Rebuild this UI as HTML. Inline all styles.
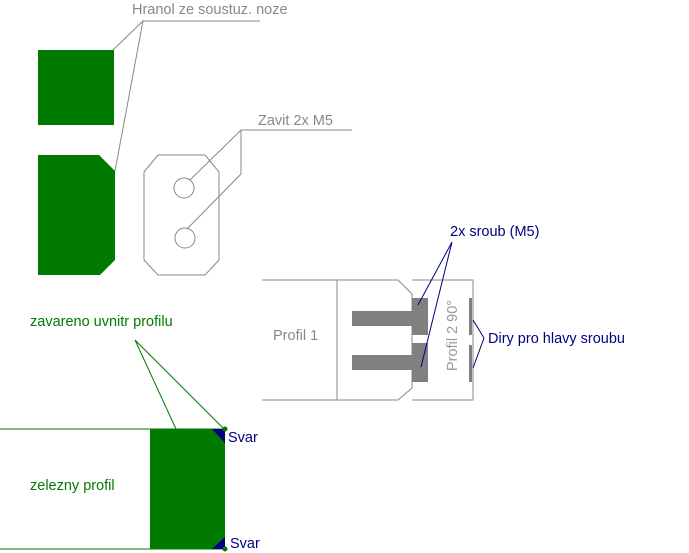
<!DOCTYPE html>
<html><head><style>body{margin:0;background:#fff}svg{display:block}text{font-family:"Liberation Sans",sans-serif;font-size:14.5px}</style></head><body>
<svg width="689" height="553" viewBox="0 0 689 553">
<g fill="#007b00">
<rect x="38" y="50" width="76" height="75"/>
<polygon points="38,155 99,155 115,171 115,260 100,275 38,275"/>
</g>
<g stroke="#888" fill="none" stroke-width="1">
<polyline points="113,50 143,21 115,171"/>
<line x1="143" y1="21" x2="260" y2="21"/>
<polygon points="144,172 158,155 205,155 219,172 219,260 205,275 158,275 144,260"/>
<circle cx="184" cy="188" r="10"/><circle cx="185" cy="238" r="10"/>
<polyline points="190,180 241,130 352,130"/>
<polyline points="241,130 241,174 187,229"/>
<line x1="262" y1="280" x2="337" y2="280"/>
<line x1="262" y1="400" x2="337" y2="400"/>
<polygon points="337,280 398,280 412,294 412,388 398,400 337,400"/>
<polyline points="412,280 473,280 473,400 412,400"/>
</g>
<text x="132" y="14" fill="#888">Hranol ze soustuz. noze</text>
<text x="258" y="125" fill="#888">Zavit 2x M5</text>
<text x="273" y="340" fill="#888">Profil 1</text>
<text transform="translate(457,371) rotate(-90)" fill="#999">Profil 2 90°</text>
<g fill="#808080">
<rect x="352" y="311" width="60" height="15"/>
<rect x="412" y="298" width="16" height="37"/>
<rect x="352" y="355" width="60" height="15"/>
<rect x="412" y="343" width="16" height="39"/>
<rect x="469" y="298" width="3" height="37"/>
<rect x="469" y="345" width="3" height="37"/>
</g>
<g stroke="#000080" fill="none">
<polyline points="418,305 452,242 421,367"/>
<polyline points="473,320 484,338 473,368"/>
</g>
<text x="450" y="236" fill="#000080">2x sroub (M5)</text>
<text x="488" y="343" fill="#000080">Diry pro hlavy sroubu</text>
<text x="30" y="326" fill="#007b00">zavareno uvnitr profilu</text>
<g stroke="#007b00" fill="none">
<polyline points="176,429 135,340 225,430"/>
<line x1="0" y1="429" x2="225" y2="429"/>
<line x1="0" y1="549" x2="225" y2="549"/>
</g>
<rect x="150" y="429" width="75" height="120" fill="#007b00"/>
<polygon points="212,429 225,429 225,443" fill="#000080"/>
<polygon points="212,549 225,549 225,537" fill="#000080"/>
<circle cx="225" cy="429" r="2.5" fill="#007b00"/>
<circle cx="225" cy="549" r="2.5" fill="#007b00"/>
<text x="228" y="442" fill="#000080">Svar</text>
<text x="230" y="548" fill="#000080">Svar</text>
<text x="30" y="490" fill="#007b00">zelezny profil</text>
</svg>
</body></html>
